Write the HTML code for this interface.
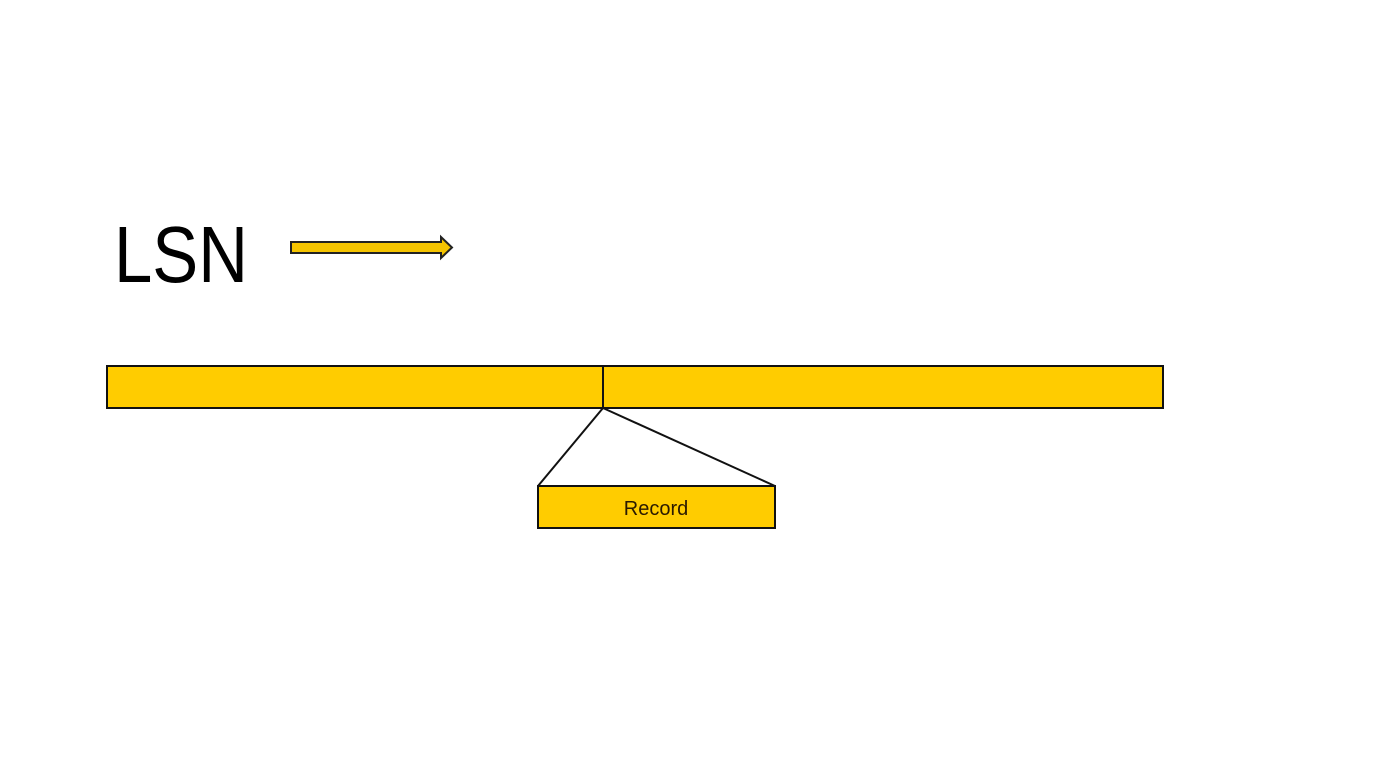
<!DOCTYPE html>
<html><head><style>
html,body{margin:0;padding:0;background:#fff;width:1378px;height:775px;overflow:hidden}
</style></head><body>
<svg width="1378" height="775" xmlns="http://www.w3.org/2000/svg">
<rect width="1378" height="775" fill="#fff"/>
<text x="114" y="282" font-family="Liberation Sans, sans-serif" font-size="80" fill="#000" textLength="134" lengthAdjust="spacingAndGlyphs">LSN</text>
<polygon points="291,242 441,242 441,237 452,247.5 441,258 441,253 291,253" fill="#f5c400" stroke="#222" stroke-width="2"/>
<rect x="107" y="366" width="1056" height="42" fill="#ffcc00" stroke="#111" stroke-width="2"/>
<line x1="603" y1="366" x2="603" y2="408" stroke="#111" stroke-width="2"/>
<line x1="603" y1="408" x2="538" y2="486" stroke="#111" stroke-width="2"/>
<line x1="603" y1="408" x2="775" y2="486" stroke="#111" stroke-width="2"/>
<rect x="538" y="486" width="237" height="42" fill="#ffcc00" stroke="#111" stroke-width="2"/>
<text x="656" y="515" text-anchor="middle" font-family="Liberation Sans, sans-serif" font-size="20" fill="#2a1a00">Record</text>
</svg>
</body></html>
